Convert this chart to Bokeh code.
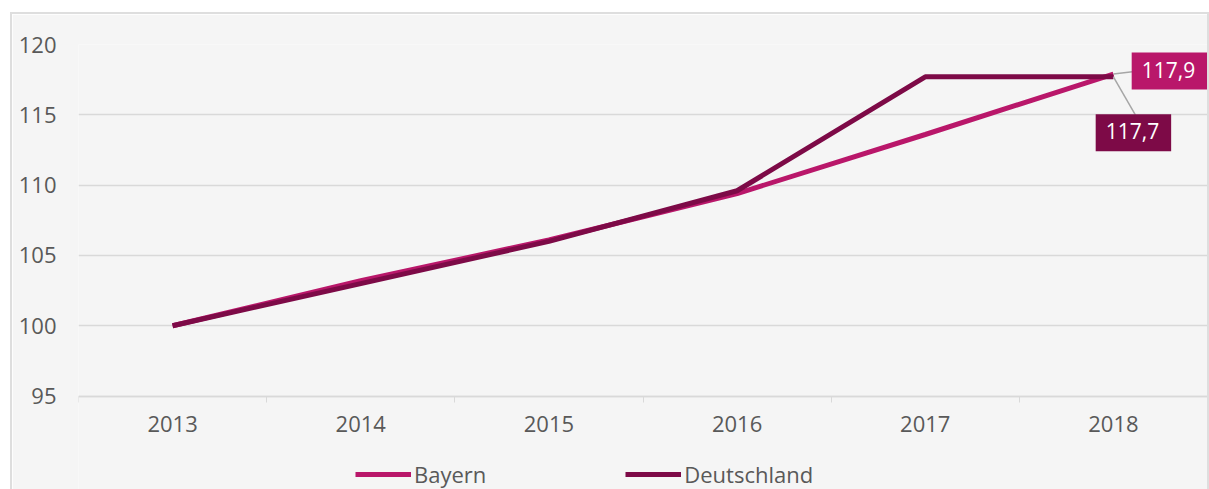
from bokeh.plotting import figure
from bokeh.models import (Range1d, FixedTicker, Legend, LegendItem, Label, ColumnDataSource)
from bokeh.embed import file_html
from bokeh.resources import INLINE

# ---- data ----
years = ["2013", "2014", "2015", "2016", "2017", "2018"]
bayern = [100.0, 103.2, 106.1, 109.4, 113.6, 117.9]
deutschland = [100.0, 103.0, 106.0, 109.6, 117.7, 117.7]
y_ticks = [95, 100, 105, 110, 115, 120]

BAYERN_C = "#b9176a"
DE_C = "#7d0a47"
TXT = "#595959"
GRID = "#d9d9d9"
FONT = "Open Sans"

W, H = 1199, 477
ML, MR, MT, MB = 66, 4, 30, 0
frame_w = W - 4 - ML - MR
frame_h = H - 2 - MT - MB
PX_PER_UNIT = 14.0          # vertical scale of the value axis
y_top = 120
y_bottom = y_top - frame_h / PX_PER_UNIT   # frame extends below 95 to host axis labels & legend

p = figure(width=W, height=H, output_backend="svg", toolbar_location=None,
           x_range=Range1d(0, len(years)), y_range=Range1d(y_bottom, y_top),
           min_border_left=ML, min_border_right=MR, min_border_top=MT, min_border_bottom=MB)
p.styles = {"margin-left": "10px", "margin-top": "12px",
            "border-left": "2px solid #dedede", "border-top": "2px solid #dedede",
            "border-right": "2px solid #dedede"}
p.background_fill_color = "#f5f5f5"
p.border_fill_color = "#f5f5f5"
p.outline_line_color = None

xs = [i + 0.5 for i in range(len(years))]

# axes
p.xaxis.fixed_location = y_ticks[0]
p.xaxis.ticker = FixedTicker(ticks=xs, minor_ticks=list(range(len(years) + 1)))
p.xaxis.major_label_overrides = {x: y for x, y in zip(xs, years)}
p.xaxis.major_tick_line_color = None
p.xaxis.major_tick_out = 0
p.xaxis.minor_tick_line_color = GRID
p.xaxis.minor_tick_out = 6
p.xaxis.minor_tick_in = 0
p.xaxis.axis_line_color = GRID
p.xaxis.axis_line_width = 1.5
p.xaxis.major_label_text_font = FONT
p.xaxis.major_label_text_font_size = "22px"
p.xaxis.major_label_text_color = TXT
p.xaxis.major_label_standoff = 14

p.yaxis.ticker = FixedTicker(ticks=y_ticks)
p.yaxis.axis_line_color = None
p.yaxis.major_tick_line_color = None
p.yaxis.minor_tick_line_color = None
p.yaxis.major_tick_out = 0
p.yaxis.major_label_text_font = FONT
p.yaxis.major_label_text_font_size = "22px"
p.yaxis.major_label_text_color = TXT
p.yaxis.major_label_standoff = 22

p.xgrid.grid_line_color = None
p.ygrid.ticker = FixedTicker(ticks=y_ticks)
p.ygrid.grid_line_color = GRID
p.ygrid.grid_line_width = 1.5

src = ColumnDataSource(dict(x=xs, bayern=bayern, de=deutschland))
r_b = p.line("x", "bayern", source=src, line_color=BAYERN_C, line_width=5)
r_d = p.line("x", "de", source=src, line_color=DE_C, line_width=5)

# leader lines (pixel offsets converted to data units)
px_x = len(years) / frame_w
px_y = 1 / PX_PER_UNIT
xe = xs[-1]
p.segment(x0=[xe, xe], y0=[bayern[-1], deutschland[-1]],
          x1=[xe + 21 * px_x, xe + 22 * px_x],
          y1=[bayern[-1] + 2.5 * px_y, deutschland[-1] - 38 * px_y],
          line_color="#a6a6a6", line_width=1.5)

# data labels
def fmt(v):
    return f"{v:.1f}".replace(".", ",")

p.add_layout(Label(x=xe, y=bayern[-1], x_offset=56, y_offset=3, text=fmt(bayern[-1]),
                   text_align="center", text_baseline="middle", text_font=FONT,
                   text_font_size="21px", text_color="white",
                   background_fill_color=BAYERN_C, padding=(10, 12, 9, 12)))
p.add_layout(Label(x=xe, y=deutschland[-1], x_offset=20, y_offset=-56, text=fmt(deutschland[-1]),
                   text_align="center", text_baseline="middle", text_font=FONT,
                   text_font_size="21px", text_color="white",
                   background_fill_color=DE_C, padding=(10, 12, 9, 12)))

legend = Legend(items=[LegendItem(label="Bayern", renderers=[r_b]),
                       LegendItem(label="Deutschland", renderers=[r_d])],
                orientation="horizontal", location=(277, 2),
                glyph_width=56, glyph_height=20, label_standoff=3, spacing=139,
                label_text_font=FONT, label_text_font_size="22px", label_text_color=TXT,
                padding=0, margin=0, border_line_color=None, background_fill_alpha=0)
p.add_layout(legend, "center")

open("out.html", "w").write(file_html(p, INLINE))
